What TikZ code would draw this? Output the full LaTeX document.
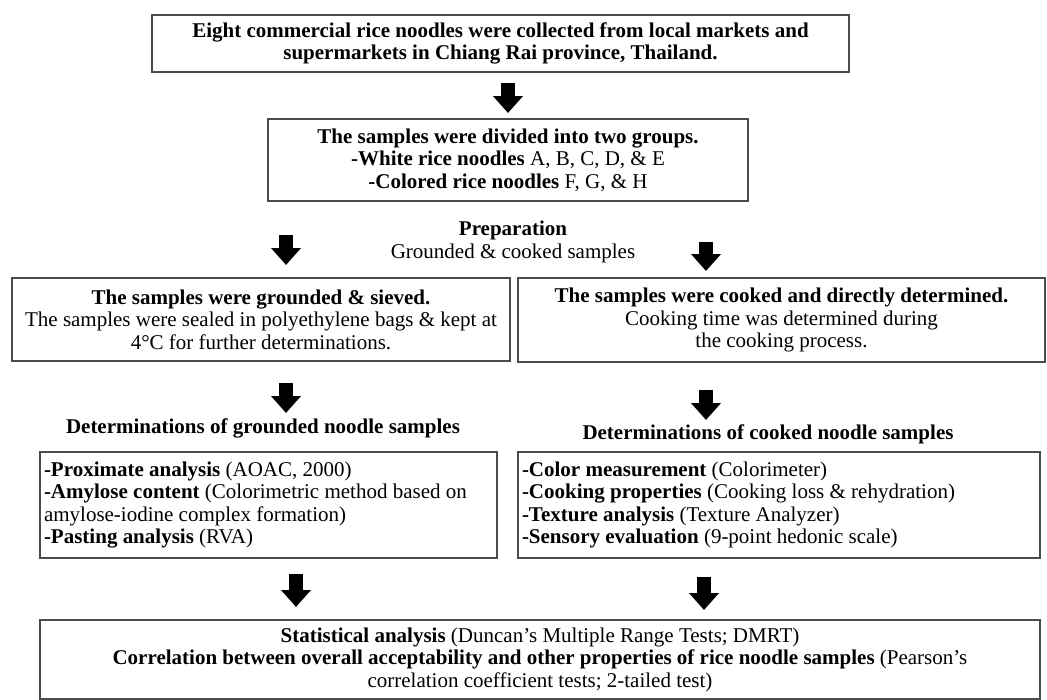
\documentclass[tikz,border=0pt]{standalone}
\usepackage{fontspec}
\setmainfont{Liberation Serif}
\usetikzlibrary{arrows.meta,positioning}

\begin{document}
\begin{tikzpicture}[
  x=0.75pt, y=-0.75pt,
  every node/.style={font=\fontsize{15.75}{16.9}\selectfont, inner sep=0pt},
  box/.style={draw=black!70, line width=1.1pt, align=center},
  listbox/.style={draw=black!70, line width=1.1pt, align=flush left, inner xsep=3pt, minimum height=79.5pt},
  bigarrow/.style={line width=10.5pt, -{Triangle[width=21.75pt,length=12.75pt]}}
]
\path[use as bounding box, fill=white] (0,0) rectangle (1047,700);

\node[box, minimum width=522.75pt, minimum height=42.75pt] (collect) at (500.5,43.5)
  {\textbf{Eight commercial rice noodles were collected from local markets and}\\
   \textbf{supermarkets in Chiang Rai province, Thailand.}};
\node[box, minimum width=360pt, minimum height=61.5pt] (groups) at (508,160)
  {\textbf{The samples were divided into two groups.}\\
   \textbf{-White rice noodles} A, B, C, D, \& E\\
   \textbf{-Colored rice noodles} F, G, \& H};
\node[align=center] (prep) at (513,242)
  {\textbf{Preparation}\\Grounded \& cooked samples};

\node[box, minimum width=373.5pt, minimum height=62.25pt] (ground) at (261,319.5)
  {\textbf{The samples were grounded \& sieved.}\\
   The samples were sealed in polyethylene bags \& kept at\\
   4°C for further determinations.};
\node[box, minimum width=395.25pt, minimum height=63pt] (cook) at (781.5,320)
  {\textbf{The samples were cooked and directly determined.}\\
   Cooking time was determined during\\
   the cooking process.};

\node (detg) at (263,428) {\textbf{Determinations of grounded noodle samples}};
\node (detc) at (768,434) {\textbf{Determinations of cooked noodle samples}};

\node[listbox, text width=336.75pt] (listg) at (268.5,505)
  {\textbf{-Proximate analysis} (AOAC, 2000)\\
   \textbf{-Amylose content} (Colorimetric method based on\\
   amylose-iodine complex formation)\\
   \textbf{-Pasting analysis} (RVA)};
\node[listbox, text width=385.5pt] (listc) at (779,505)
  {\textbf{-Color measurement} (Colorimeter)\\
   \textbf{-Cooking properties} (Cooking loss \& rehydration)\\
   \textbf{-Texture analysis} (Texture Analyzer)\\
   \textbf{-Sensory evaluation} (9-point hedonic scale)};

\node[box, minimum width=750pt, minimum height=59.25pt] (stats) at (540,659.5)
  {\textbf{Statistical analysis} (Duncan's Multiple Range Tests; DMRT)\\
   \textbf{Correlation between overall acceptability and other properties of rice noodle samples} (Pearson's\\
   correlation coefficient tests; 2-tailed test)};

% block arrows
\coordinate (a1s) at (508,83);  \coordinate (a1e) at (508,113);
\coordinate (gl1s) at (286,235); \coordinate (gl1e) at (286,265);
\coordinate (cr1s) at (706,242); \coordinate (cr1e) at (706,271);
\coordinate (gl2s) at (286,383); \coordinate (gl2e) at (286,413);
\coordinate (cr2s) at (706,390); \coordinate (cr2e) at (706,420);
\coordinate (gl3s) at (296,574); \coordinate (gl3e) at (296,607);
\coordinate (cr3s) at (704,577); \coordinate (cr3e) at (704,610);

\draw[bigarrow] (a1s) -- (a1e);
\draw[bigarrow] (gl1s) -- (gl1e);
\draw[bigarrow] (cr1s) -- (cr1e);
\draw[bigarrow] (gl2s) -- (gl2e);
\draw[bigarrow] (cr2s) -- (cr2e);
\draw[bigarrow] (gl3s) -- (gl3e);
\draw[bigarrow] (cr3s) -- (cr3e);

\end{tikzpicture}
\end{document}
